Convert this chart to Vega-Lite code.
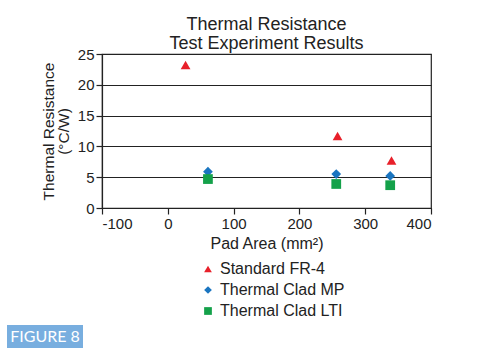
{
  "$schema": "https://vega.github.io/schema/vega-lite/v6.json",
  "padding": {"left": 7, "top": 15, "right": 0, "bottom": 0},
  "background": "white",
  "columns": 2,
  "align": "each",
  "spacing": {"row": 67, "column": -43},
  "concat": [
    {
      "width": 1,
      "height": 1,
      "view": {"stroke": null},
      "data": {"values": [{"label": ""}]},
      "mark": {"type": "text"},
      "encoding": {"text": {"field": "label"}}
    },
    {
      "width": 329,
      "height": 154,
      "title": {
        "text": ["Thermal Resistance", "Test Experiment Results"],
        "fontSize": 18,
        "fontWeight": "normal",
        "font": "Liberation Sans",
        "color": "#222",
        "anchor": "middle",
        "frame": "group",
        "lineHeight": 19,
        "offset": -6
      },
      "data": {
        "values": [
          {"series": "Standard FR-4", "area": 27, "resistance": 23.2},
          {"series": "Standard FR-4", "area": 258, "resistance": 11.7},
          {"series": "Standard FR-4", "area": 340, "resistance": 7.7},
          {"series": "Thermal Clad MP", "area": 61, "resistance": 5.9},
          {"series": "Thermal Clad MP", "area": 256, "resistance": 5.5},
          {"series": "Thermal Clad MP", "area": 338, "resistance": 5.2},
          {"series": "Thermal Clad LTI", "area": 61, "resistance": 4.7},
          {"series": "Thermal Clad LTI", "area": 256, "resistance": 3.9},
          {"series": "Thermal Clad LTI", "area": 338, "resistance": 3.7}
        ]
      },
      "mark": {"type": "point", "filled": true, "opacity": 1, "size": 95},
      "encoding": {
        "x": {
          "field": "area",
          "type": "quantitative",
          "scale": {"domain": [-100, 400], "nice": false, "zero": false},
          "axis": {
            "values": [-100, 0, 100, 200, 300, 400],
            "labelExpr": "replace(datum.label, '−', '-')",
            "title": "Pad Area (mm²)",
            "titleFontSize": 16,
            "grid": false
          }
        },
        "y": {
          "field": "resistance",
          "type": "quantitative",
          "scale": {"domain": [0, 25], "nice": false},
          "axis": {
            "values": [0, 5, 10, 15, 20, 25],
            "title": ["Thermal Resistance", "(°C/W)"],
            "titleLineHeight": 15,
            "titleFontSize": 15.5,
            "grid": true
          }
        },
        "color": {
          "field": "series",
          "type": "nominal",
          "scale": {
            "domain": ["Standard FR-4", "Thermal Clad MP", "Thermal Clad LTI"],
            "range": ["#e8202a", "#1a75c0", "#14a14a"]
          },
          "legend": {
            "orient": "none",
            "legendX": 193,
            "legendY": 207,
            "direction": "vertical",
            "title": null,
            "labelFontSize": 16,
            "labelFont": "Liberation Sans",
            "labelColor": "#222",
            "symbolSize": 60,
            "rowPadding": 5,
            "labelOffset": 4
          }
        },
        "shape": {
          "field": "series",
          "type": "nominal",
          "scale": {
            "domain": ["Standard FR-4", "Thermal Clad MP", "Thermal Clad LTI"],
            "range": ["triangle-up", "diamond", "square"]
          },
          "legend": null
        }
      }
    },
    {
      "width": 76,
      "height": 23,
      "view": {"fill": "#78aedf", "stroke": null},
      "data": {"values": [{"label": "FIGURE 8"}]},
      "mark": {"type": "text", "color": "white", "fontSize": 16, "font": "Lato", "align": "center", "baseline": "middle"},
      "encoding": {"text": {"field": "label"}}
    },
    {
      "width": 1,
      "height": 1,
      "view": {"stroke": null},
      "data": {"values": [{"label": ""}]},
      "mark": {"type": "text"},
      "encoding": {"text": {"field": "label"}}
    }
  ],
  "config": {
    "font": "Liberation Sans",
    "view": {"stroke": "#222", "strokeWidth": 1.2},
    "axis": {
      "labelFontSize": 15,
      "labelColor": "#222",
      "labelFont": "Liberation Sans",
      "titleFontSize": 15,
      "titleFontWeight": "normal",
      "titleColor": "#222",
      "titleFont": "Liberation Sans",
      "domainColor": "#222",
      "domainWidth": 1.2,
      "tickColor": "#222",
      "tickSize": 6,
      "tickWidth": 1.2,
      "gridColor": "#222",
      "gridOpacity": 1,
      "gridWidth": 1.2,
      "labelPadding": 2
    },
    "axisY": {"titlePadding": 6},
    "axisX": {"titlePadding": 4}
  }
}
